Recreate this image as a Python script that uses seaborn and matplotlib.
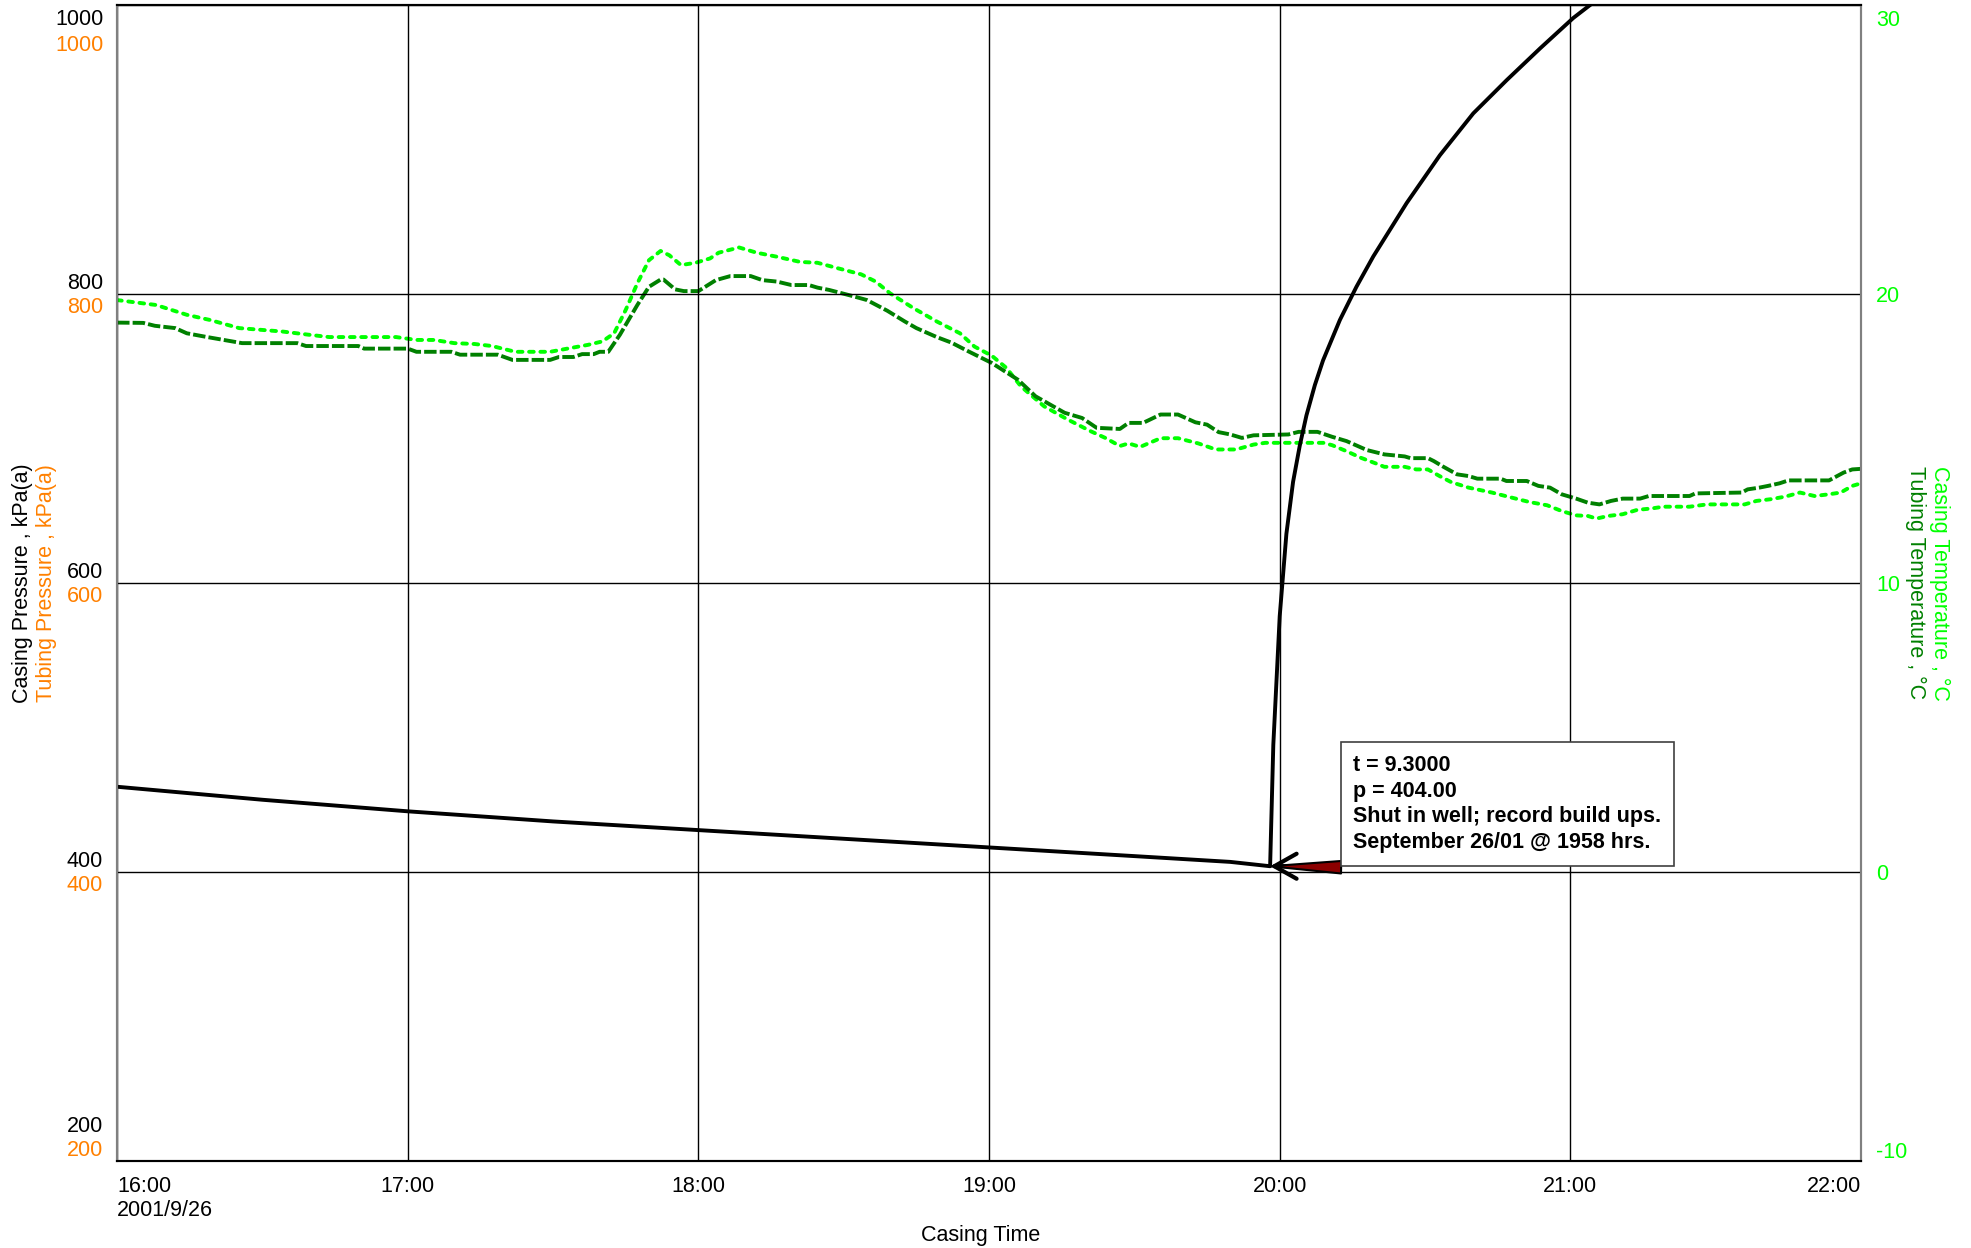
import pandas as pd
import seaborn as sns
import matplotlib.pyplot as plt
import matplotlib.dates as mdates
from matplotlib.transforms import ScaledTranslation

# --- data (hours of day on 2001-09-26) ---
base_day = pd.Timestamp('2001-09-26')

# Casing pressure, kPa(a): slow drawdown, shut-in at 19:58 then build-up
cp_hours = [16.0, 16.5, 17.0, 17.5, 18.0, 18.5, 19.0, 19.5, 19.83, 19.967,
            19.978, 20.0, 20.023, 20.046, 20.069, 20.092, 20.121, 20.149, 20.207, 20.264,
            20.322, 20.437, 20.551, 20.666, 20.781, 20.896, 21.01, 21.068, 21.2]
cp_kpa = [459, 450, 442, 435, 429, 423, 417, 411, 407, 404,
          488, 577, 634, 670, 695, 716, 737, 754, 782, 805,
          826, 863, 896, 925, 948, 970, 991, 1000, 1020]

# Casing temperature, degC
ct_hours = [16.0, 16.134, 16.24, 16.32, 16.42, 16.57, 16.66, 16.73, 16.96, 17.03,
            17.09, 17.16, 17.23, 17.29, 17.37, 17.49, 17.56, 17.62, 17.67, 17.71,
            17.75, 17.79, 17.83, 17.87, 17.90, 17.94, 17.99, 18.04, 18.07, 18.14,
            18.20, 18.27, 18.35, 18.41, 18.48, 18.56, 18.61, 18.66, 18.74, 18.82,
            18.90, 18.95, 19.01, 19.06, 19.11, 19.19, 19.27, 19.35, 19.40, 19.45,
            19.48, 19.52, 19.59, 19.65, 19.72, 19.78, 19.85, 19.91, 19.95, 20.15,
            20.18, 20.23, 20.28, 20.33, 20.36, 20.43, 20.47, 20.51, 20.55, 20.59,
            20.65, 20.73, 20.80, 20.86, 20.92, 20.97, 21.02, 21.06, 21.09, 21.13,
            21.18, 21.23, 21.28, 21.32, 21.41, 21.47, 21.60, 21.64, 21.69, 21.74,
            21.79, 21.84, 21.89, 21.93, 21.97, 22.0]
ct_degc = [19.79, 19.62, 19.28, 19.10, 18.82, 18.70, 18.59, 18.51, 18.51, 18.41,
           18.41, 18.30, 18.27, 18.20, 18.00, 18.00, 18.13, 18.24, 18.36, 18.64,
           19.45, 20.37, 21.17, 21.49, 21.34, 21.00, 21.08, 21.23, 21.43, 21.61,
           21.43, 21.29, 21.11, 21.08, 20.89, 20.68, 20.43, 20.02, 19.51, 19.05,
           18.64, 18.18, 17.86, 17.44, 16.80, 16.11, 15.66, 15.25, 15.02, 14.74,
           14.83, 14.71, 15.01, 15.01, 14.83, 14.62, 14.62, 14.79, 14.85, 14.85,
           14.77, 14.56, 14.33, 14.14, 14.02, 14.02, 13.93, 13.93, 13.70, 13.49,
           13.30, 13.13, 12.95, 12.80, 12.69, 12.49, 12.34, 12.32, 12.23, 12.32,
           12.38, 12.53, 12.58, 12.64, 12.64, 12.72, 12.72, 12.84, 12.90, 12.99,
           13.13, 13.01, 13.07, 13.13, 13.36, 13.45]

# Tubing temperature, degC
tt_hours = [16.0, 16.09, 16.13, 16.20, 16.24, 16.31, 16.43, 16.62, 16.65, 16.83,
            16.85, 17.0, 17.03, 17.15, 17.18, 17.31, 17.36, 17.49, 17.52, 17.57,
            17.60, 17.64, 17.66, 17.69, 17.73, 17.79, 17.83, 17.87, 17.88, 17.92,
            17.95, 18.0, 18.06, 18.11, 18.18, 18.22, 18.27, 18.32, 18.38, 18.41,
            18.45, 18.53, 18.58, 18.65, 18.71, 18.75, 18.82, 18.87, 18.93, 19.01,
            19.10, 19.16, 19.26, 19.32, 19.37, 19.45, 19.48, 19.53, 19.59, 19.65,
            19.71, 19.75, 19.79, 19.83, 19.87, 19.91, 20.03, 20.065, 20.13, 20.18,
            20.23, 20.30, 20.36, 20.40, 20.43, 20.45, 20.51, 20.53, 20.56, 20.61,
            20.65, 20.68, 20.76, 20.78, 20.85, 20.89, 20.93, 20.97, 21.02, 21.06,
            21.10, 21.14, 21.18, 21.24, 21.27, 21.41, 21.43, 21.59, 21.61, 21.65,
            21.68, 21.72, 21.75, 21.89, 21.94, 21.97, 22.0]
tt_degc = [19.01, 19.00, 18.90, 18.82, 18.64, 18.51, 18.30, 18.30, 18.20, 18.20,
           18.11, 18.11, 18.00, 18.00, 17.90, 17.90, 17.72, 17.72, 17.82, 17.82,
           17.92, 17.92, 18.00, 18.00, 18.59, 19.62, 20.25, 20.50, 20.50, 20.16,
           20.10, 20.10, 20.48, 20.62, 20.62, 20.48, 20.43, 20.31, 20.31, 20.22,
           20.14, 19.93, 19.79, 19.42, 19.05, 18.82, 18.51, 18.32, 18.01, 17.61,
           17.03, 16.46, 15.89, 15.71, 15.37, 15.33, 15.54, 15.54, 15.83, 15.83,
           15.56, 15.48, 15.22, 15.14, 15.02, 15.11, 15.14, 15.23, 15.23, 15.06,
           14.91, 14.60, 14.45, 14.41, 14.38, 14.32, 14.32, 14.22, 14.04, 13.76,
           13.70, 13.61, 13.61, 13.53, 13.53, 13.36, 13.30, 13.07, 12.92, 12.78,
           12.72, 12.84, 12.92, 12.92, 13.01, 13.01, 13.10, 13.13, 13.24, 13.30,
           13.36, 13.45, 13.55, 13.55, 13.82, 13.93, 13.95]

hour_ticks = [16, 17, 18, 19, 20, 21, 22]
hour_labels = ['16:00\n2001/9/26', '17:00', '18:00', '19:00', '20:00', '21:00', '22:00']
p_ticks = [200, 400, 600, 800, 1000]
t_ticks = [-10, 0, 10, 20, 30]

shut_hour = 19.967
shut_kpa = 404
note = 't = 9.3000\np = 404.00\nShut in well; record build ups.\nSeptember 26/01 @ 1958 hrs.'

ORANGE = '#ff8000'
LIME = '#00ff00'
DARKGREEN = '#008000'
FS = 15.5


def to_time(hours):
    return base_day + pd.to_timedelta(hours, unit='h')


sns.set_theme(style='white')
plt.rcParams['font.family'] = ['Liberation Sans', 'DejaVu Sans']

fig = plt.figure(figsize=(19.71, 12.48), dpi=100, facecolor='white')
ax = fig.add_axes([0.0594, 0.0697, 0.8848, 0.9263])
ax2 = ax.twinx()

# temperatures on the right axis
sns.lineplot(x=to_time(ct_hours), y=ct_degc, ax=ax2, color=LIME, linewidth=2.8,
             linestyle=(0, (1.2, 1.7)), dash_capstyle='round')
sns.lineplot(x=to_time(tt_hours), y=tt_degc, ax=ax2, color=DARKGREEN, linewidth=2.8,
             linestyle=(0, (3.2, 0.8)))

# casing pressure on the left axis
sns.lineplot(x=to_time(cp_hours), y=cp_kpa, ax=ax, color='black', linewidth=2.8)

ax.set_zorder(ax2.get_zorder() + 1)
ax.patch.set_visible(False)
ax2.patch.set_visible(True)
ax2.patch.set_facecolor('white')

ax.set_xlim(to_time([16.0])[0], to_time([22.0])[0])
ax.set_ylim(200, 1000)
ax2.set_ylim(-10, 30)

# ticks
ax.set_xticks(to_time(hour_ticks))
ax.set_xticklabels(hour_labels)
ax.set_yticks(p_ticks, labels=[str(v) for v in p_ticks])
ax.set_yticks(p_ticks, labels=[str(v) for v in p_ticks], minor=True)
ax.yaxis.remove_overlapping_locs = False
ax2.set_yticks(t_ticks, labels=[str(v) for v in t_ticks])

ax.tick_params(axis='both', which='both', length=0, labelsize=FS)
ax.tick_params(axis='x', pad=11, labelcolor='black')
ax.tick_params(axis='y', which='major', pad=10, labelcolor='black')
ax.tick_params(axis='y', which='minor', pad=10, labelcolor=ORANGE)
ax2.tick_params(axis='y', length=0, pad=11, labelsize=FS, labelcolor=LIME)

xt = ax.get_xticklabels()
xt[0].set_ha('left')
xt[-1].set_ha('right')


def shift(label, dy_px):
    label.set_transform(label.get_transform() +
                        ScaledTranslation(0, dy_px / fig.dpi, fig.dpi_scale_trans))


major = ax.yaxis.get_major_ticks()
minor = ax.yaxis.get_minor_ticks()
for tk in major:
    tk.label1.set_va('bottom')
for tk in minor:
    tk.label1.set_va('top')
    shift(tk.label1, -3)
shift(major[0].label1, 24)
shift(minor[0].label1, 24)
shift(major[-1].label1, -25)
shift(minor[-1].label1, -27)
rt = ax2.yaxis.get_major_ticks()
shift(rt[0].label2, 11)
shift(rt[-1].label2, -13)

# grid and frame
ax.grid(True, which='major', axis='both', color='black', linewidth=1.0)
ax2.grid(False)
for a in (ax, ax2):
    for side in ('top', 'bottom'):
        a.spines[side].set_color('black')
        a.spines[side].set_linewidth(1.5)
    for side in ('left', 'right'):
        a.spines[side].set_color('#808080')
        a.spines[side].set_linewidth(1.5)

# axis titles
ax.set_xlabel('Casing Time', fontsize=FS, color='black')
ax.xaxis.set_label_coords(0.495, -0.055)
ax.set_ylabel('Casing Pressure , kPa(a)', fontsize=FS, color='black', va='center')
ax.yaxis.set_label_coords(-0.054, 0.5)
ax.text(-0.0405, 0.5, 'Tubing Pressure , kPa(a)', transform=ax.transAxes, rotation=90,
        ha='center', va='center', color=ORANGE, fontsize=FS)
ax2.set_ylabel('Casing Temperature , °C', fontsize=FS, color=LIME, rotation=-90, va='center')
ax2.yaxis.set_label_coords(1.045, 0.5)
ax2.text(1.031, 0.5, 'Tubing Temperature , °C', transform=ax2.transAxes, rotation=-90,
         ha='center', va='center', color=DARKGREEN, fontsize=FS)

# shut-in annotation
shut_pt = (mdates.date2num(to_time([shut_hour])[0]), shut_kpa)
ax.annotate('', xy=shut_pt, xytext=(24, 0), textcoords='offset pixels',
            arrowprops=dict(arrowstyle='->,head_length=0.8,head_width=0.45', color='black',
                            lw=3, mutation_scale=20, shrinkA=0, shrinkB=0))
ax.annotate('', xy=shut_pt, xytext=(71, -1), textcoords='offset pixels',
            arrowprops=dict(arrowstyle='wedge,tail_width=0.45', fc='#8b0000', ec='black',
                            lw=1.5, mutation_scale=20, shrinkA=0, shrinkB=0))
ax.annotate(note, xy=shut_pt, xytext=(83, 13), textcoords='offset pixels',
            ha='left', va='bottom', fontsize=FS, fontweight='bold', linespacing=1.3,
            color='black',
            bbox=dict(boxstyle='square,pad=0.58', fc='white', ec='#404040', lw=1.2))

fig.savefig('out.png', dpi=100)
